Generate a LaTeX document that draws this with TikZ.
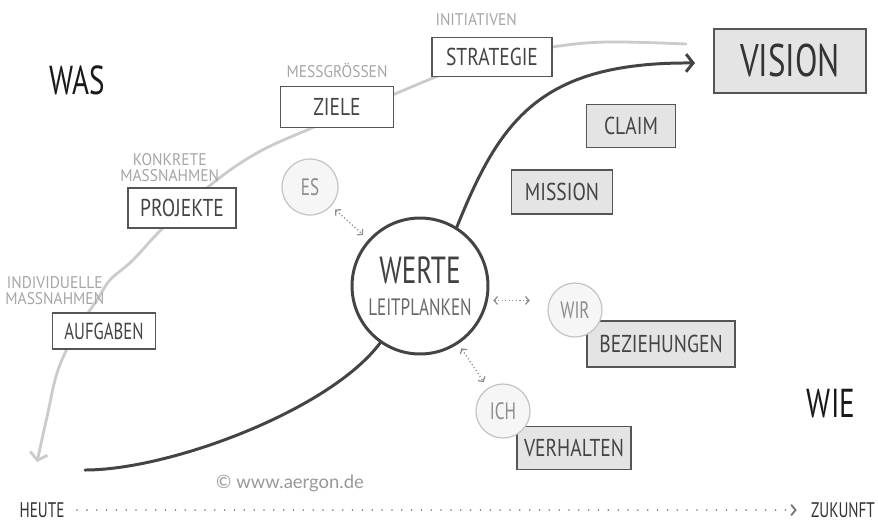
\documentclass[tikz,border=0pt]{standalone}
\usepackage{fontspec}
\setmainfont{PT Sans}[FakeStretch=0.72]
\newfontfamily\boxfont{PT Sans}[FakeStretch=0.8]
\newfontfamily\notefont{PT Sans}[FakeStretch=0.92]
\newfontfamily\webfont{Lato}
\usepackage{tikz}
\usepackage{xcolor}
\usetikzlibrary{positioning, arrows.meta}

\definecolor{ink}{HTML}{444444}
\definecolor{boxline}{HTML}{555555}
\definecolor{boxgray}{HTML}{E4E4E4}
\definecolor{notegray}{HTML}{A6A6A6}
\definecolor{ringline}{HTML}{C4C4C4}
\definecolor{ringfill}{HTML}{F6F6F6}
\definecolor{ringtext}{HTML}{8C8C8C}
\definecolor{backgray}{HTML}{CBCBCB}

\tikzset{
  side/.style={text=black!90, font=\fontsize{23}{24}\selectfont},
  box/.style={draw=boxline, line width=1.1pt, fill=white, inner sep=2pt,
              text=ink, font=\boxfont\fontsize{13.9}{15}\selectfont},
  gbox/.style={box, fill=boxgray},
  note/.style={text=notegray, align=center, inner sep=1pt,
               font=\notefont\fontsize{9.6}{9.2}\selectfont},
  ring/.style={circle, draw=ringline, line width=0.7pt, fill=ringfill,
               text=ringtext, inner sep=0pt, minimum size=1.08cm,
               font=\fontsize{13.5}{15}\selectfont},
  core/.style={circle, draw=ink, line width=1.7pt, fill=white, align=center,
               inner sep=0pt, minimum size=2.72cm, text=ink!80,
               font=\fontsize{13.5}{15}\selectfont},
  mainpath/.style={draw=ink, line width=1.7pt, line cap=round},
  backpath/.style={draw=backgray, line width=1.6pt, line cap=round},
  link/.style={draw=black!45, line width=0.7pt, dash pattern=on 0.7pt off 1.3pt,
               {Straight Barb[length=2pt,width=4.5pt]}-{Straight Barb[length=2pt,width=4.5pt]},
               shorten <=3pt, shorten >=4pt},
  foot/.style={text=black!80, font=\fontsize{12}{13}\selectfont, inner sep=2pt},
  timeline/.style={draw=black!55, line width=1pt, line cap=round,
                   dash pattern=on 0pt off 5.6pt,
                   -{Straight Barb[length=2.5pt,width=6pt]}, shorten <=5pt, shorten >=6pt}
}

\begin{document}
\begin{tikzpicture}[x=0.02cm, y=-0.02cm]
\fill[white] (0,0) rectangle (878,522);
\useasboundingbox (0,0) rectangle (878,522);

% WAS / WIE
\node[side] (was) at (77,80) {WAS};
\node[side] (wie) at (831,404) {WIE};

% light path from the top back down to the daily tasks
\draw[backpath, -{Straight Barb[length=4pt,width=10pt]}]
  plot[smooth, tension=0.6] coordinates {(686,44) (607,42) (552,47) (480,60)
  (433,78) (397,93) (307,130) (257,153) (213,183) (163,228) (133,260)
  (110,280) (97,300) (77,330) (58,370) (47,417) (37,462)};

% WAS side: white boxes
\node[box, minimum width=2.4cm, minimum height=0.78cm] (strategie) at (492,57) {STRATEGIE};
\node[box, minimum width=2.26cm, minimum height=0.82cm] (ziele) at (337,107) {ZIELE};
\node[box, minimum width=2.16cm, minimum height=0.8cm] (projekte) at (182,208) {PROJEKTE};
\node[box, minimum width=2.06cm, minimum height=0.72cm,
      font=\fontsize{13.2}{15}\selectfont] (aufgaben) at (104,331) {AUFGABEN};

\node[note, above=5pt of strategie, xshift=-9pt] (initiativen) {INITIATIVEN};
\node[note, above=3pt of ziele] (messgroessen) {MESSGRÖSSEN};
\node[note, above=2pt of projekte, xshift=-7pt] (konkret) {KONKRETE\\MASSNAHMEN};
\node[note, above=3pt of aufgaben, xshift=-28pt] (individuell) {INDIVIDUELLE\\MASSNAHMEN};

% WIE side: gray boxes
\node[gbox, minimum width=3.04cm, minimum height=1.28cm,
      font=\fontsize{26}{28}\selectfont, text=black!80] (vision) at (790,61) {VISION};
\node[gbox, minimum width=1.78cm, minimum height=0.86cm] (claim) at (631,126) {CLAIM};
\node[gbox, minimum width=2.02cm, minimum height=0.88cm] (mission) at (562,192) {MISSION};
\node[gbox, minimum width=2.96cm, minimum height=0.92cm] (beziehungen) at (661,344) {BEZIEHUNGEN};
\node[gbox, minimum width=2.28cm, minimum height=0.86cm] (verhalten) at (574,448) {VERHALTEN};

% rings
\node[ring, minimum size=1.12cm] (es) at (310,187) {ES};
\node[ring] (wir) at (575,310) {WIR};
\node[ring] (ich) at (503,411) {ICH};

% values in the middle
\node[core] (werte) at (420,286)
  {{\fontsize{21.5}{22}\selectfont\color{ink!95!black}WERTE}\\[3pt]LEITPLANKEN};

\draw[link] (es) -- (werte);
\draw[link, shorten >=10pt] (werte.-12) -- (werte.-12 -| wir.west);
\draw[link] (werte) -- (ich);

% main path from today to the vision
\coordinate (today) at (85,470);
\coordinate (goal) at (695,63);
\draw[mainpath] (today) .. controls (170,470) and (330,410) .. (werte.235);
\draw[mainpath, -{Straight Barb[length=4pt,width=10pt]}]
  (werte.58) .. controls (500,120) and (540,62) .. (goal);

% time axis
\node[foot] (heute) at (42,510) {HEUTE};
\node[foot] (zukunft) at (843,510) {ZUKUNFT};
\draw[timeline] (heute) -- (zukunft);

\node[text=black!40, font=\webfont\fontsize{10.5}{12}\selectfont] (web) at (290,483) {© www.aergon.de};
\end{tikzpicture}
\end{document}
